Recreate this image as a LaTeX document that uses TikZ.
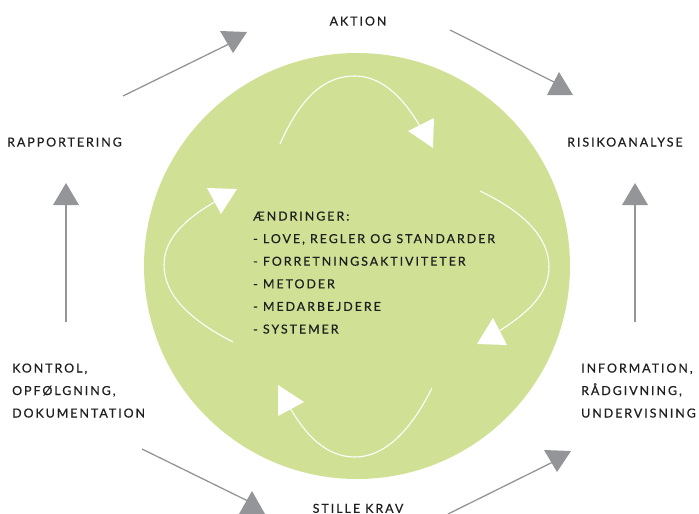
\documentclass[tikz,border=0pt]{standalone}
\usepackage{fontspec}
\newfontfamily\labelfont[LetterSpace=16,FakeBold=0.6]{Lato}
\begin{document}
\begin{tikzpicture}[x=1pt,y=-1pt,
  lbl/.style={inner sep=0pt, font=\labelfont\fontsize{12.4}{14}\selectfont, text=black!88},
  flow/.style={draw=arrowgray, line width=1.3pt},
  tip/.style={fill=arrowgray},
  loopline/.style={draw=white, line width=1.1pt},
  looptip/.style={fill=white}]
\definecolor{arrowgray}{HTML}{939598}
\definecolor{leaf}{HTML}{D0E195}
\useasboundingbox (0,0) rectangle (699,514);

% central disc
\fill[leaf] (357,266) circle[radius=213];

% white cycle inside the disc
\draw[loopline] (280,144) .. controls (303,92) and (328,76) .. (355,76)
  .. controls (383,76) and (405,100) .. (421,128);
\fill[looptip] (408,131) -- (434,118) -- (433,148) -- cycle;
\draw[loopline] (480,191) .. controls (528,214) and (549,240) .. (549,267)
  .. controls (549,295) and (525,315) .. (496,333);
\fill[looptip] (477,344) -- (507,345) -- (493,318) -- cycle;
\draw[loopline] (432,388) .. controls (410,432) and (384,457) .. (355,457)
  .. controls (326,457) and (306,435) .. (290,408);
\fill[looptip] (278,385) -- (304,402) -- (278,416) -- cycle;
\draw[loopline] (233,342) .. controls (190,320) and (164,295) .. (164,265)
  .. controls (164,237) and (188,217) .. (218,200);
\fill[looptip] (207,188) -- (237,189) -- (221,214) -- cycle;

% labels around the disc
\node[lbl, anchor=base] (akt) at (358,25.5) {AKTION};
\node[lbl, anchor=base west] (rap) at (7,146.5) {RAPPORTERING};
\node[lbl, anchor=base west] (ris) at (567,146.5) {RISIKOANALYSE};
\node[lbl, anchor=base west] (kon1) at (12,372.5) {KONTROL,};
\node[lbl, anchor=base west] (kon2) at (12,395) {OPFØLGNING,};
\node[lbl, anchor=base west] (kon3) at (12,417.5) {DOKUMENTATION};
\node[lbl, anchor=base west] (inf1) at (581,372.5) {INFORMATION,};
\node[lbl, anchor=base west] (inf2) at (581,395) {RÅDGIVNING,};
\node[lbl, anchor=base west] (inf3) at (581,417.5) {UNDERVISNING};
\node[lbl, anchor=base] (krav) at (358,512.8) {STILLE KRAV};

% text in the disc
\node[lbl, anchor=base west] (c0) at (253,220.5) {ÆNDRINGER:};
\node[lbl, anchor=base west] (c1) at (253,243.1) {- LOVE, REGLER OG STANDARDER};
\node[lbl, anchor=base west] (c2) at (253,265.7) {- FORRETNINGSAKTIVITETER};
\node[lbl, anchor=base west] (c3) at (253,288.3) {- METODER};
\node[lbl, anchor=base west] (c4) at (253,310.9) {- MEDARBEJDERE};
\node[lbl, anchor=base west] (c5) at (253,333.5) {- SYSTEMER};

% grey connectors between the labels
\coordinate (a1s) at (123,96);  \coordinate (a1e) at (233,42);
\coordinate (a2s) at (450,30);  \coordinate (a2e) at (560,85);
\coordinate (a3s) at (635,322); \coordinate (a3e) at (635,200);
\coordinate (a4s) at (448,514); \coordinate (a4e) at (557,460);
\coordinate (a5s) at (142,449); \coordinate (a5e) at (252,503);
\coordinate (a6s) at (66,322);  \coordinate (a6e) at (66,200);
\draw[flow] (a1s) -- (a1e);
\fill[tip] (220,31) -- (247,32) -- (233,53) -- cycle;
\draw[flow] (a2s) -- (a2e);
\fill[tip] (547,95) -- (573,95) -- (559,72) -- cycle;
\draw[flow] (a3s) -- (a3e);
\fill[tip] (622,205) -- (648,205) -- (635,183) -- cycle;
\draw[flow] (a4s) -- (a4e);
\fill[tip] (544,450) -- (571,451) -- (557,472) -- cycle;
\draw[flow] (a5s) -- (a5e);
\fill[tip] (239,514) -- (265,514) -- (252,491) -- cycle;
\draw[flow] (a6s) -- (a6e);
\fill[tip] (53,205) -- (79,205) -- (66,183) -- cycle;
\end{tikzpicture}
\end{document}
